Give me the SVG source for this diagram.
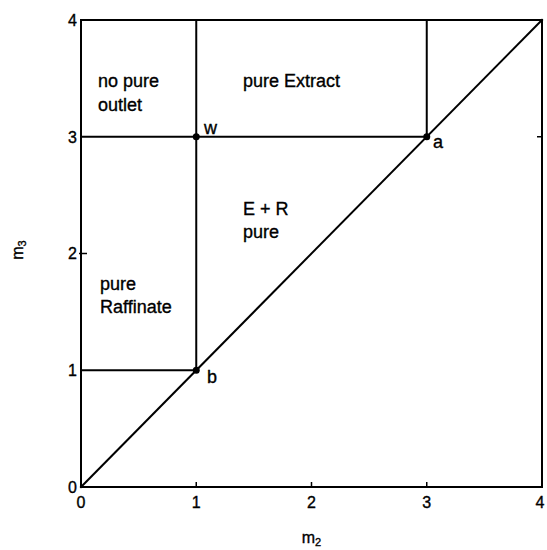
<svg xmlns="http://www.w3.org/2000/svg" width="547" height="550" viewBox="0 0 547 550">
<style>
text{font-family:"Liberation Sans",Arial,sans-serif;fill:#000;stroke:#000;stroke-width:0.35}
.lbl{font-size:18px}
.tk{font-size:16px}
.ln{stroke:#000;stroke-width:2;fill:none;stroke-linecap:square}
.tick{stroke:#000;stroke-width:1.5}
.pt{fill:#000}
</style>
<rect width="547" height="550" fill="#fff"/>
<g id="axes">
<rect class="ln" x="81" y="20" width="461" height="467"/>
<line class="tick" x1="196.25" y1="487" x2="196.25" y2="482"/>
<line class="tick" x1="311.5" y1="487" x2="311.5" y2="482"/>
<line class="tick" x1="426.75" y1="487" x2="426.75" y2="482"/>
<line class="tick" x1="79" y1="253.5" x2="87" y2="253.5"/>
<line class="tick" x1="542" y1="136.75" x2="537" y2="136.75"/>
<g class="tk" text-anchor="middle">
<text x="81" y="508">0</text>
<text x="196.25" y="508">1</text>
<text x="311.5" y="508">2</text>
<text x="426.75" y="508">3</text>
<text x="540" y="508">4</text>
</g>
<g class="tk" text-anchor="end">
<text x="77" y="26">4</text>
<text x="77" y="143">3</text>
<text x="77" y="259">2</text>
<text x="77" y="376">1</text>
<text x="77" y="493">0</text>
</g>
<text class="tk" x="311.5" y="543" text-anchor="middle">m<tspan font-size="11" dy="3">2</tspan></text>
<text class="tk" transform="translate(23,250) rotate(-90)" text-anchor="middle">m<tspan font-size="11" dy="3">3</tspan></text>
</g>
<g id="connectors">
<line class="ln" x1="196.25" y1="20" x2="196.25" y2="370.25"/>
<line class="ln" x1="81" y1="136.75" x2="426.75" y2="136.75"/>
<line class="ln" x1="426.75" y1="20" x2="426.75" y2="136.75"/>
<line class="ln" x1="81" y1="370.25" x2="196.25" y2="370.25"/>
<line class="ln" x1="81" y1="487" x2="542" y2="20"/>
</g>
<g id="point-w">
<circle class="pt" cx="196.25" cy="136.75" r="3.5"/>
<text class="lbl" x="204" y="134">w</text>
</g>
<g id="point-a">
<circle class="pt" cx="426.75" cy="136.75" r="3.5"/>
<text class="lbl" x="433" y="148">a</text>
</g>
<g id="point-b">
<circle class="pt" cx="196.25" cy="370.25" r="3.5"/>
<text class="lbl" x="207" y="383">b</text>
</g>
<g id="region-no-pure-outlet">
<text class="lbl" x="98" y="87">no pure</text>
<text class="lbl" x="98" y="111">outlet</text>
</g>
<g id="region-pure-extract">
<text class="lbl" x="243" y="87">pure Extract</text>
</g>
<g id="region-e-r-pure">
<text class="lbl" x="243" y="215">E + R</text>
<text class="lbl" x="243" y="238">pure</text>
</g>
<g id="region-pure-raffinate">
<text class="lbl" x="100" y="290">pure</text>
<text class="lbl" x="100" y="313">Raffinate</text>
</g>
</svg>
